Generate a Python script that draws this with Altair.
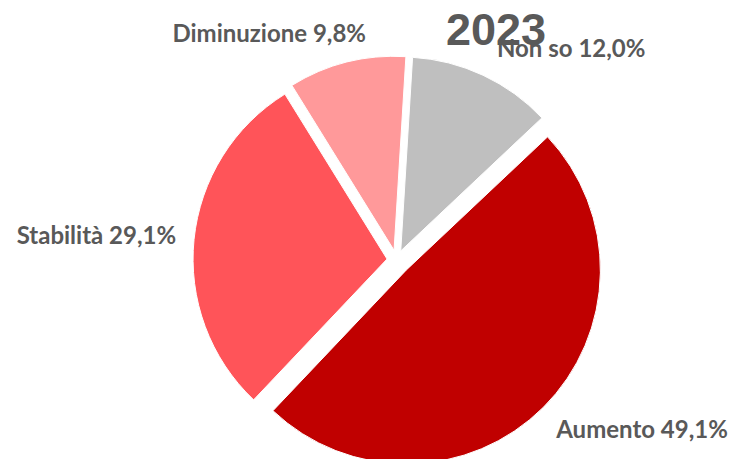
import math
import altair as alt
import pandas as pd

# ---- data ----
categories = ["Non so", "Aumento", "Stabilità", "Diminuzione"]
values = [12.0, 49.1, 29.1, 9.8]
labels = ["Non so 12,0%", "Aumento 49,1%", "Stabilità 29,1%", "Diminuzione 9,8%"]
colors = ["#BFBFBF", "#C00000", "#FF5459", "#FF999A"]
title_text = ["2023"]

# ---- layout / style ----
W, H = 722, 451
CX, CY = 388.5, 252        # pie centre (plot coords)
R = 194                    # pie radius
START = math.radians(3.5)  # angle of first slice
EXPLODE = {"Non so": 10, "Aumento": 14, "Stabilità": 9.5, "Diminuzione": 10}
LABEL_R = 215
NUDGE = {"Non so": (5, -6), "Aumento": (-2, 9), "Stabilità": (3, 0), "Diminuzione": (24.5, -6.4)}
TEXT_COLOR = "#595959"


def lookup(d, idx=None):
    parts = ""
    items = list(d.items())
    for k, v in items[:-1]:
        val = v if idx is None else v[idx]
        parts += f"datum.cat === '{k}' ? {val} : "
    last = items[-1][1] if idx is None else items[-1][1][idx]
    return parts + f"{last}"


df = pd.DataFrame({
    "cat": categories,
    "value": values,
    "label": labels,
    "order": list(range(len(categories))),
})

base = (
    alt.Chart(df)
    .transform_joinaggregate(total="sum(value)")
    .transform_window(cum="sum(value)", sort=[alt.SortField("order")], frame=[None, 0])
    .transform_calculate(a0=f"{START} + 2*PI*(datum.cum - datum.value)/datum.total")
    .transform_calculate(a1=f"{START} + 2*PI*datum.cum/datum.total")
    .transform_calculate(mid="(datum.a0 + datum.a1)/2")
    .transform_calculate(e=lookup(EXPLODE))
    .transform_calculate(px=f"{CX} + datum.e*sin(datum.mid)")
    .transform_calculate(py=f"{CY} - datum.e*cos(datum.mid)")
    .transform_calculate(lx=f"datum.px + {LABEL_R}*sin(datum.mid) + ({lookup(NUDGE, 0)})")
    .transform_calculate(ly=f"datum.py - {LABEL_R}*cos(datum.mid) + ({lookup(NUDGE, 1)})")
)

arcs = base.mark_arc(radius=R, stroke="white", strokeWidth=1).encode(
    x=alt.X("px:Q", scale=None, axis=None),
    y=alt.Y("py:Q", scale=None, axis=None),
    theta=alt.Theta("a0:Q", scale=None, stack=False),
    theta2="a1:Q",
    color=alt.Color("cat:N", scale=alt.Scale(domain=categories, range=colors), legend=None),
)

text_style = dict(baseline="middle", font="Lato", fontWeight="bold", fontSize=24, color=TEXT_COLOR)
enc = dict(
    x=alt.X("lx:Q", scale=None, axis=None),
    y=alt.Y("ly:Q", scale=None, axis=None),
    text="label:N",
)
labels_left = base.transform_filter("sin(datum.mid) >= 0").mark_text(align="left", **text_style).encode(**enc)
labels_right = base.transform_filter("sin(datum.mid) < 0").mark_text(align="right", **text_style).encode(**enc)

title = alt.Chart(pd.DataFrame({"t": title_text})).mark_text(
    font="Liberation Sans", fontWeight="bold", fontSize=45, color=TEXT_COLOR,
    align="center", baseline="alphabetic",
).encode(x=alt.value(488), y=alt.value(37), text="t:N")

chart = (
    alt.layer(arcs, labels_left, labels_right, title)
    .properties(width=W, height=H, padding=0, autosize="none")
    .configure_view(strokeWidth=0)
)

chart.save("out.html", embed_options={"renderer": "svg", "actions": False})
